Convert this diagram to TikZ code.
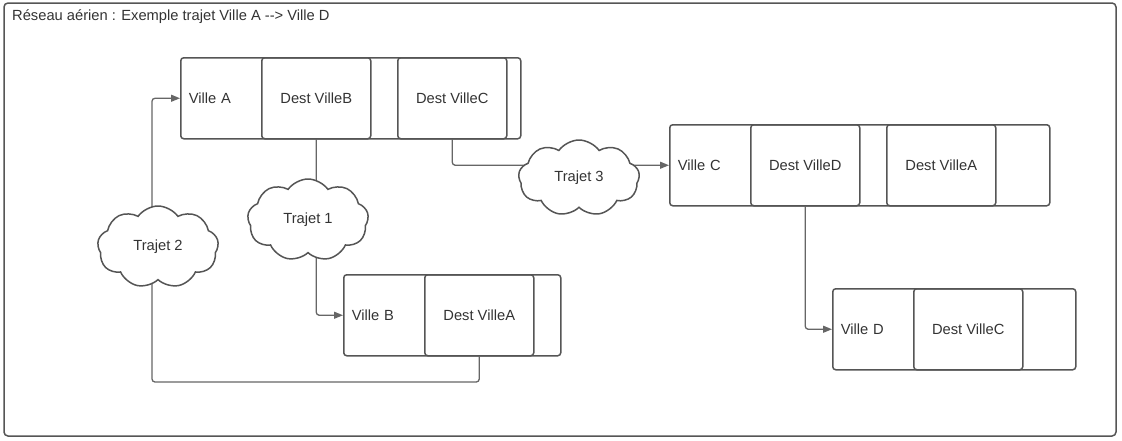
\documentclass[tikz,border=0pt]{standalone}
\usepackage{fontspec}
\setmainfont{Liberation Sans}
\usetikzlibrary{shapes.symbols}
\usetikzlibrary{arrows.meta}
\usetikzlibrary{backgrounds}

\definecolor{bordgris}{HTML}{555555}
\definecolor{liengris}{HTML}{666666}
\definecolor{textegris}{HTML}{333333}

\tikzset{
  villebox/.style={draw=bordgris, line width=1.5pt, rounded corners=3pt, minimum height=81pt,
    inner xsep=8pt, inner ysep=0pt, align=left, anchor=north west, text=textegris},
  destcell/.style={draw=bordgris, line width=1.5pt, rounded corners=3pt, minimum width=109pt,
    minimum height=81pt, inner sep=0pt, anchor=north west, text=textegris},
  trajet/.style={cloud, cloud puffs=9, cloud puff arc=110, aspect=1.5, draw=bordgris, line width=1.5pt,
    fill=white, inner sep=0pt, minimum width=121pt, minimum height=82pt, text=textegris},
  lien/.style={draw=liengris, line width=1.3pt, rounded corners=3pt, -{Triangle[length=9pt,width=7pt]}}
}

\begin{document}
\begin{tikzpicture}[x=1pt, y=-1pt, font=\fontsize{14.7}{17}\selectfont]
%anchors used to fix the page size
\useasboundingbox (0,0) rectangle (1122,440);
%frame
\draw[bordgris, line width=1.5pt, rounded corners=4pt] (4,3) rectangle (1116,436);
\node[anchor=west, text=textegris, inner sep=0pt] (titre) at (12,17) {Réseau aérien : Exemple trajet Ville A -{}-> Ville D};

%ville A
\node[villebox, text width=324pt] (boxA) at (180,57) {Ville A};
\node[destcell] (cellAB) at (261,57) {Dest VilleB};
\node[destcell] (cellAC) at (397,57) {Dest VilleC};
%ville B
\node[villebox, text width=201pt] (boxB) at (343,274) {Ville B};
\node[destcell] (cellBA) at (424,274) {Dest VilleA};
%ville C
\node[villebox, text width=364pt] (boxC) at (669,124) {Ville C};
\node[destcell] (cellCD) at (750,124) {Dest VilleD};
\node[destcell] (cellCA) at (886,124) {Dest VilleA};
%ville D
\node[villebox, text width=227pt] (boxD) at (832,288) {Ville D};
\node[destcell] (cellDC) at (913,288) {Dest VilleC};

%trajets
\node[trajet] (traj1) at (308,220) {Trajet 1};
\node[trajet] (traj2) at (158,247) {Trajet 2};
\node[trajet, minimum height=76pt] (traj3) at (579,178) {Trajet 3};

%links, under the clouds
\coordinate (coin2) at (152,382);
\begin{pgfonlayer}{background}
\draw[lien] (cellAB.south) |- (boxB.west);
\draw[lien] (cellBA.south) |- (coin2) |- (boxA.west);
\draw[lien] (cellAC.south) |- (boxC.west);
\draw[lien] (cellCD.south) |- (boxD.west);
\end{pgfonlayer}

\end{tikzpicture}
\end{document}
